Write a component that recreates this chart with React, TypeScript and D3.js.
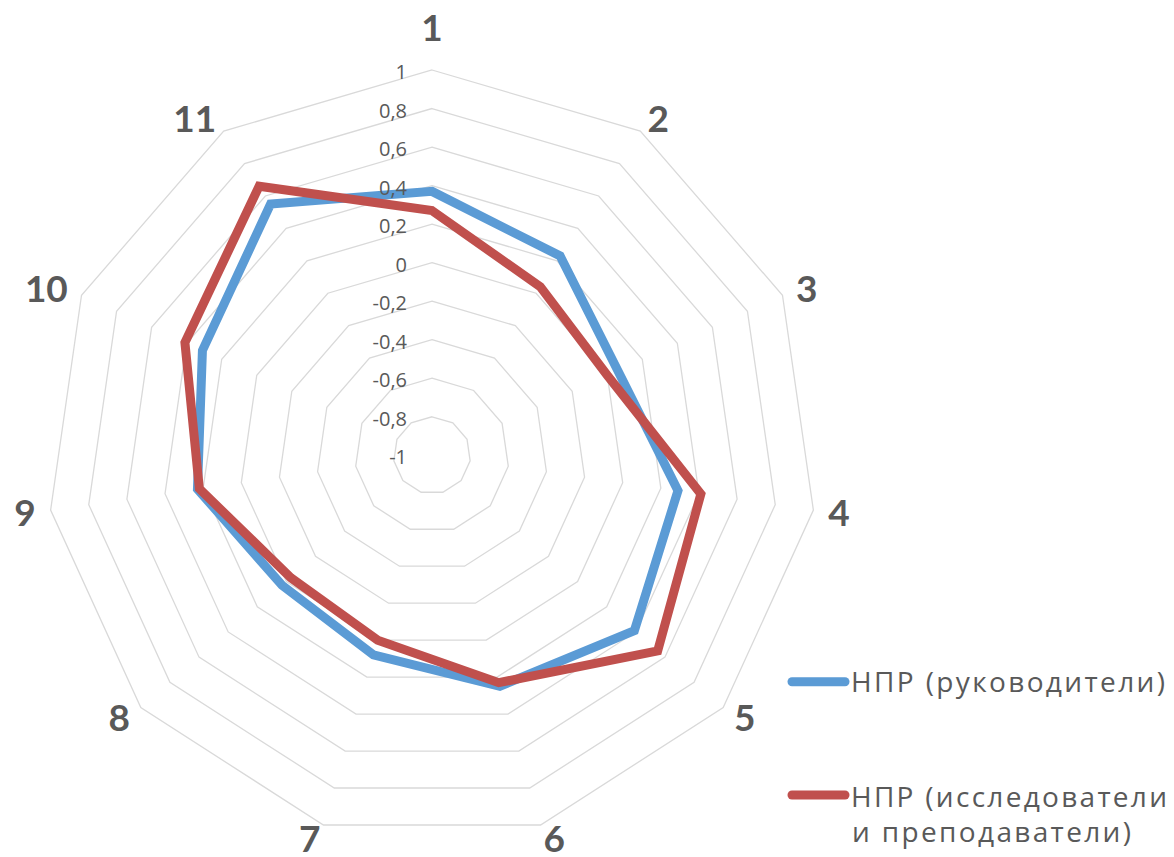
import React from 'react';
import * as d3 from 'd3';

// Axis categories and the two series
const categories = ['1', '2', '3', '4', '5', '6', '7', '8', '9', '10', '11'];
const seriesNames = ['НПР (руководители)', 'НПР (исследователи', 'и преподаватели)'];
const leaders = [0.37, 0.23, 0.06, 0.29, 0.39, 0.25, 0.08, 0.03, 0.23, 0.31, 0.55];
const researchers = [0.27, 0.04, 0.0, 0.41, 0.55, 0.23, 0.0, -0.03, 0.22, 0.41, 0.66];
const tickValues = [-1, -0.8, -0.6, -0.4, -0.2, 0, 0.2, 0.4, 0.6, 0.8, 1];

const COLORS = ['#5B9BD5', '#C0504D'];
const TEXT = '#595959';
const GRID = '#d9d9d9';

const W = 1174;
const H = 857;
const cx = 432;
const cy = 455.3;
const R = 385.3;

const App: React.FC = () => {
  const rScale = d3.scaleLinear().domain([-1, 1]).range([0, R]);
  const n = categories.length;
  const angle = (i: number) => (i * 2 * Math.PI) / n;

  // radial line generator: angle clockwise from top
  const radial = d3
    .lineRadial<number>()
    .angle((_, i) => angle(i))
    .radius(d => rScale(d))
    .curve(d3.curveLinearClosed);

  const rings = tickValues.filter(t => t > -1);
  const fmt = (t: number) => d3.format('.1~f')(t).replace('.', ',').replace('−', '-');

  const catFont = 37;
  const series = [leaders, researchers];

  return (
    <svg
      width={W}
      height={H}
      style={{ position: 'fixed', left: 0, top: 0, background: '#fff' }}
    >
      <g transform={`translate(${cx},${cy})`}>
        {/* grid polygons */}
        {rings.map(t => (
          <path
            key={t}
            d={radial(categories.map(() => t)) || ''}
            fill="none"
            stroke={GRID}
            strokeWidth={1.3}
          />
        ))}

        {/* series lines */}
        {series.map((vals, si) => (
          <path
            key={si}
            d={radial(vals) || ''}
            fill="none"
            stroke={COLORS[si]}
            strokeWidth={9}
            strokeLinejoin="miter"
          />
        ))}

        {/* tick labels */}
        {tickValues.map(t => (
          <text
            key={t}
            x={-25}
            y={-rScale(t) + 9}
            textAnchor="end"
            fontFamily="'Open Sans', sans-serif"
            fontSize={20}
            fill={TEXT}
          >
            {fmt(t)}
          </text>
        ))}

        {/* category labels: anchored beside the point just outside the outer ring */}
        {categories.map((c, i) => {
          const a = angle(i);
          const ux = Math.sin(a);
          const uy = -Math.cos(a);
          const side = Math.abs(ux) < 0.01 ? 0 : Math.sign(ux);
          const halfW = c.length === 1 ? 9 : 20;
          const x = ux * 402 + side * halfW;
          const y = uy * 400 - (side === 0 && uy < 0 ? 28 : 0);
          return (
            <text
              key={c}
              x={x}
              y={y + catFont * 0.36}
              textAnchor="middle"
              fontFamily="Lato, 'Open Sans', sans-serif"
              fontWeight="bold"
              fontSize={catFont}
              fill={TEXT}
            >
              {c}
            </text>
          );
        })}
      </g>

      {/* legend */}
      <g fontFamily="'Open Sans', sans-serif" fontSize={28} fill={TEXT}>
        <line x1={792} x2={845} y1={681.7} y2={681.7} stroke={COLORS[0]} strokeWidth={9} strokeLinecap="round" />
        <text x={851} y={692} textLength={314} lengthAdjust="spacing">{seriesNames[0]}</text>
        <line x1={792} x2={845} y1={795} y2={795} stroke={COLORS[1]} strokeWidth={9} strokeLinecap="round" />
        <text x={851} y={807} textLength={316} lengthAdjust="spacing">{seriesNames[1]}</text>
        <text x={852} y={842} textLength={279} lengthAdjust="spacing">{seriesNames[2]}</text>
      </g>
    </svg>
  );
};

export default App;
